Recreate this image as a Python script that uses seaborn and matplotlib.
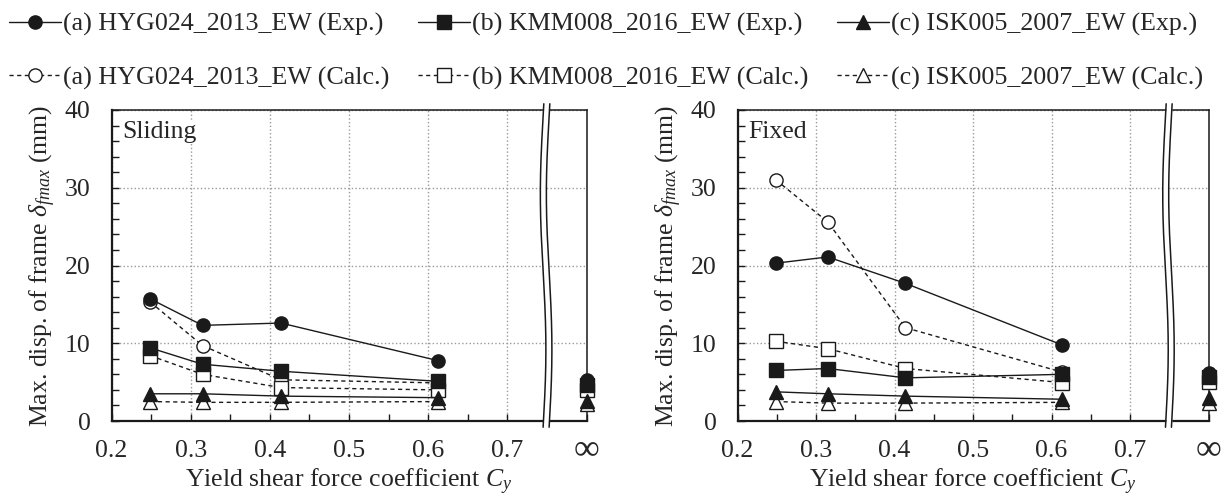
import numpy as np
import matplotlib
matplotlib.use("Agg")
import matplotlib.pyplot as plt
import seaborn as sns
from matplotlib.lines import Line2D
from matplotlib.ticker import FixedLocator, FixedFormatter, MultipleLocator

# ---------------- data ----------------
cy = [0.249, 0.315, 0.414, 0.613]          # yield shear force coefficient
cy_inf = 0.8                                # axis position of the "infinity" column

x_ticks = [0.2, 0.3, 0.4, 0.5, 0.6, 0.7, 0.8]
x_tick_labels = ["0.2", "0.3", "0.4", "0.5", "0.6", "0.7", ""]
inf_label = "\u221e"

names = ["(a) HYG024_2013_EW", "(b) KMM008_2016_EW", "(c) ISK005_2007_EW"]

# Sliding base: experiment / calculation, then value at Cy = infinity
sliding_a_exp = [15.7, 12.3, 12.6, 7.75]
sliding_a_calc = [15.3, 9.7, 5.3, 4.9]
sliding_b_exp = [9.4, 7.3, 6.4, 5.1]
sliding_b_calc = [8.4, 6.0, 4.3, 4.0]
sliding_c_exp = [3.5, 3.5, 3.2, 3.0]
sliding_c_calc = [2.5, 2.4, 2.4, 2.5]
sliding_inf_exp = [5.3, 4.6, 2.6]
sliding_inf_calc = [5.0, 4.0, 2.2]

# Fixed base
fixed_a_exp = [20.3, 21.1, 17.7, 9.8]
fixed_a_calc = [31.0, 25.6, 12.0, 6.3]
fixed_b_exp = [6.5, 6.75, 5.55, 6.0]
fixed_b_calc = [10.25, 9.3, 6.75, 4.95]
fixed_c_exp = [3.75, 3.5, 3.2, 2.8]
fixed_c_calc = [2.5, 2.3, 2.3, 2.4]
fixed_inf_exp = [6.2, 5.6, 2.9]
fixed_inf_calc = [6.0, 5.0, 2.3]

# ---------------- style ----------------
sns.set_theme(style="ticks")
plt.rcParams["font.family"] = ["Liberation Serif", "DejaVu Serif"]
plt.rcParams["mathtext.fontset"] = "custom"
plt.rcParams["mathtext.rm"] = "Liberation Serif"
plt.rcParams["mathtext.it"] = "Liberation Serif:italic"

FS = 18.5
FS_LEG = 18.7
MS = 9.5
markers = ["o", "s", "^"]
DASH = (0, (3, 2.5))

fig = plt.figure(figsize=(12.22, 4.97), dpi=100)
ax_l = fig.add_axes([111.5 / 1222, 1 - 421 / 497, 475 / 1222, 311 / 497])
ax_r = fig.add_axes([737.5 / 1222, 1 - 421 / 497, 471 / 1222, 311 / 497])


def draw_series(ax, exp_sets, calc_sets, inf_exp, inf_calc):
    for i, (ye, yc) in enumerate(zip(exp_sets, calc_sets)):
        m = markers[i]
        sns.lineplot(x=cy, y=yc, ax=ax, color="k", lw=1.0, linestyle=DASH,
                     marker=m, markersize=MS, markerfacecolor="white",
                     markeredgecolor="k", markeredgewidth=1.0, zorder=3)
        sns.lineplot(x=cy, y=ye, ax=ax, color="k", lw=1.0, linestyle="-",
                     marker=m, markersize=MS, markerfacecolor="k",
                     markeredgecolor="k", markeredgewidth=1.0, zorder=4)
    for i in range(3):
        m = markers[i]
        sns.lineplot(x=[cy_inf], y=[inf_calc[i]], ax=ax, color="k",
                     marker=m, markersize=MS, markerfacecolor="white",
                     markeredgecolor="k", markeredgewidth=1.0,
                     clip_on=False, zorder=3)
        sns.lineplot(x=[cy_inf], y=[inf_exp[i]], ax=ax, color="k",
                     marker=m, markersize=MS, markerfacecolor="k",
                     markeredgecolor="k", markeredgewidth=1.0,
                     clip_on=False, zorder=4)


def style_axes(ax, tag):
    ax.set_xlim(0.2, 0.8)
    ax.set_ylim(0, 40)
    ax.xaxis.set_major_locator(FixedLocator(x_ticks))
    ax.xaxis.set_major_formatter(FixedFormatter(x_tick_labels))
    ax.xaxis.set_minor_locator(FixedLocator([0.25, 0.35, 0.45, 0.55, 0.65]))
    ax.yaxis.set_major_locator(MultipleLocator(10))
    ax.yaxis.set_minor_locator(MultipleLocator(2))
    ax.tick_params(which="both", direction="in", length=5, width=1.0,
                   color="k", top=False, right=False)
    ax.tick_params(axis="x", which="major", labelsize=FS, pad=14)
    ax.tick_params(axis="y", which="major", labelsize=FS, pad=15)
    # infinity label at the right end of the x axis
    ax.text(cy_inf, -0.092, inf_label, transform=ax.get_xaxis_transform(),
            fontsize=26, ha="center", va="center")
    ax.grid(True, which="major", color="#9a9a9a", linestyle=":", lw=1.0)
    ax.set_axisbelow(True)
    for side in ["left", "bottom"]:
        ax.spines[side].set_linewidth(1.6)
    for side in ["top", "right"]:
        ax.spines[side].set_linewidth(1.1)
    for s in ax.spines.values():
        s.set_color("k")
    ax.set_xlabel("Yield shear force coefficient $C_y$", fontsize=FS)
    ax.xaxis.set_label_coords(0.5, -0.148)
    ax.set_ylabel("Max. disp. of frame $\\delta_{fmax}$ (mm)", fontsize=FS,
                  labelpad=5)
    ax.text(0.022, 0.929, tag, transform=ax.transAxes, fontsize=FS,
            ha="left", va="center",
            bbox=dict(facecolor="white", edgecolor="none", pad=0.5))

    # axis break between 0.7 and infinity
    tr = ax.get_xaxis_transform()
    t = np.linspace(-0.02, 1.02, 200)
    wave = 0.0035 * np.sin(2 * np.pi * (t + 0.02))
    x0, half = 0.749, 0.0038
    ax.fill_betweenx(t, x0 - half + wave, x0 + half + wave, color="white",
                     transform=tr, clip_on=False, zorder=5, lw=0)
    for sgn in (-1, 1):
        ax.plot(x0 + sgn * half + wave, t, color="k", lw=1.1,
                transform=tr, clip_on=False, zorder=6)


draw_series(ax_l,
            [sliding_a_exp, sliding_b_exp, sliding_c_exp],
            [sliding_a_calc, sliding_b_calc, sliding_c_calc],
            sliding_inf_exp, sliding_inf_calc)
draw_series(ax_r,
            [fixed_a_exp, fixed_b_exp, fixed_c_exp],
            [fixed_a_calc, fixed_b_calc, fixed_c_calc],
            fixed_inf_exp, fixed_inf_calc)
style_axes(ax_l, "Sliding")
style_axes(ax_r, "Fixed")

# shared legend: experiment row on top, calculation row below
handles, labels = [], []
for i, nm in enumerate(names):
    handles.append(Line2D([0], [0], color="k", lw=1.0, ls="-", marker=markers[i],
                          markersize=MS, markerfacecolor="k", markeredgecolor="k"))
    labels.append(f"{nm} (Exp.)")
    handles.append(Line2D([0], [0], color="k", lw=1.0, ls=DASH, marker=markers[i],
                          markersize=MS, markerfacecolor="white",
                          markeredgecolor="k"))
    labels.append(f"{nm} (Calc.)")

fig.legend(handles, labels, ncol=3, loc="upper left",
           bbox_to_anchor=(0.004, 0.982), frameon=False, fontsize=FS_LEG,
           handlelength=2.0, handletextpad=0.08, columnspacing=1.1,
           labelspacing=1.15, borderaxespad=0.0, borderpad=0.15)

fig.savefig("out.png", dpi=100)
